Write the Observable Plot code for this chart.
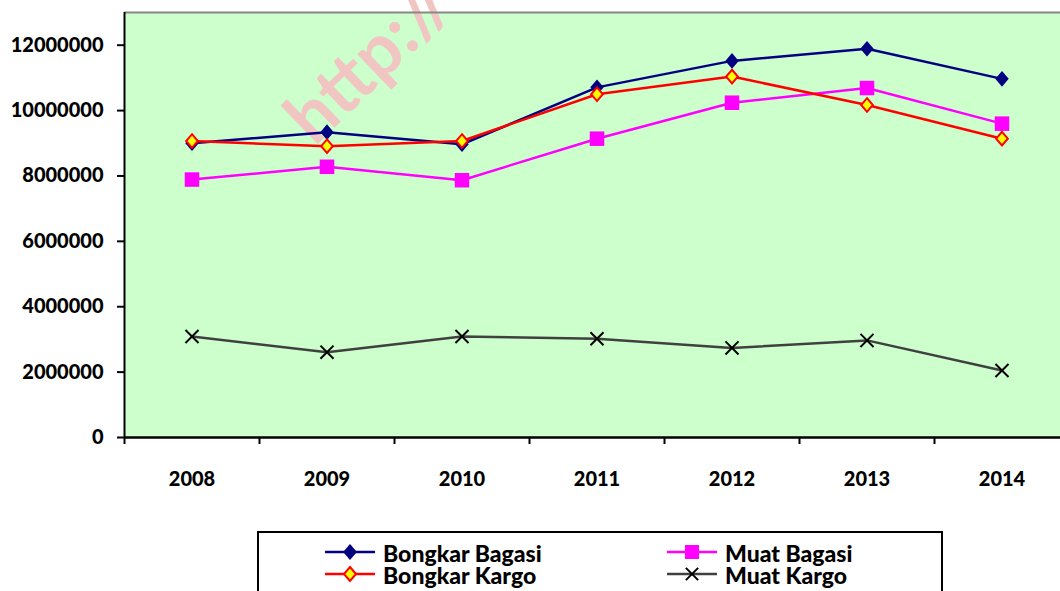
<!DOCTYPE html>
<html>
<head>
<meta charset="utf-8">
<script src="https://cdn.jsdelivr.net/npm/d3@7"></script>
<script src="https://cdn.jsdelivr.net/npm/@observablehq/plot@0.6"></script>
<style>
  html, body { margin: 0; padding: 0; background: white; overflow: hidden; }
  #wrap { position: relative; width: 1060px; height: 591px; }
  #legend { position: absolute; left: 257px; top: 531px; width: 682px; height: 80px;
    border: 2px solid black; font-family: Lato, sans-serif; font-weight: 900; font-size: 23px; }
  .item { position: absolute; display: flex; align-items: center; height: 22px; }
  .item svg { display: block; }
  .item span { display: block; margin-left: 7px; height: 21px; line-height: 22px; overflow: visible; white-space: nowrap; }
</style>
</head>
<body>
<div id="wrap"><div id="chart"></div><div id="legend"></div></div>
<script>
const years = [2008, 2009, 2010, 2011, 2012, 2013, 2014];
const bongkarBagasi = [9000000, 9340000, 8970000, 10710000, 11520000, 11890000, 10970000];
const bongkarKargo = [9070000, 8910000, 9070000, 10500000, 11040000, 10170000, 9140000];
const muatBagasi = [7890000, 8280000, 7870000, 9140000, 10240000, 10690000, 9600000];
const muatKargo = [3090000, 2610000, 3090000, 3020000, 2740000, 2970000, 2050000];
const yTicks = [0, 2000000, 4000000, 6000000, 8000000, 10000000, 12000000];
const seriesNames = ["Bongkar Bagasi", "Muat Bagasi", "Bongkar Kargo", "Muat Kargo"];
const watermark = "http://";

const yearBoundaries = years.map(y => y - 0.5).concat([years[years.length - 1] + 0.5]);
const toRows = vals => years.map((year, i) => ({year, value: vals[i]}));
const bb = toRows(bongkarBagasi), bk = toRows(bongkarKargo), mb = toRows(muatBagasi), mk = toRows(muatKargo);

// Excel-like diamond (slightly taller than wide); half-height equals Plot's r
const excelDiamond = {
  draw(ctx, size) {
    const h = Math.sqrt(size / Math.PI), w = h * 0.86;
    ctx.moveTo(0, -h); ctx.lineTo(w, 0); ctx.lineTo(0, h); ctx.lineTo(-w, 0); ctx.closePath();
  }
};

const chart = Plot.plot({
  width: 1060, height: 510,
  marginLeft: 124, marginRight: 0, marginTop: 12, marginBottom: 73,
  style: {fontFamily: "Lato, sans-serif", fontWeight: 900, fontSize: "20px", color: "black", background: "white"},
  x: {domain: [yearBoundaries[0], yearBoundaries[yearBoundaries.length - 1]], range: [124, 1069]},
  y: {domain: [0, 13000000]},
  marks: [
    Plot.frame({fill: "#CCFFCC", stroke: "none"}),
    Plot.text([watermark], {frameAnchor: "top-left", dx: 174, dy: 118, rotate: -44, textAnchor: "start",
      lineAnchor: "middle", fontSize: 72, fontWeight: "bold", fill: "#F1C6C2"}),
    Plot.ruleY([13000000], {stroke: "#888", strokeWidth: 2}),
    Plot.axisY({ticks: yTicks, tickSize: 7, tickPadding: 14, strokeWidth: 2, tickFormat: d => String(d), label: null, fontSize: 20}),
    Plot.axisX({ticks: yearBoundaries, tickSize: 7, strokeWidth: 2, tickFormat: () => "", label: null}),
    Plot.axisX({ticks: years, tickSize: 0, tickPadding: 34, tickFormat: d => String(d), label: null, fontSize: 20}),
    Plot.lineY(mk, {x: "year", y: "value", stroke: "#404040", strokeWidth: 2.5}),
    Plot.dot(mk, {x: "year", y: "value", symbol: "times", r: 6, stroke: "black", strokeWidth: 2}),
    Plot.lineY(mb, {x: "year", y: "value", stroke: "#FF00FF", strokeWidth: 2.5}),
    Plot.dot(mb, {x: "year", y: "value", symbol: "square", r: 8.2, fill: "#FF00FF", stroke: "none"}),
    Plot.lineY(bb, {x: "year", y: "value", stroke: "#000080", strokeWidth: 2.5}),
    Plot.dot(bb, {x: "year", y: "value", symbol: excelDiamond, r: 7.8, fill: "#000080", stroke: "none"}),
    Plot.lineY(bk, {x: "year", y: "value", stroke: "#FF0000", strokeWidth: 2.5}),
    Plot.dot(bk, {x: "year", y: "value", symbol: excelDiamond, r: 6.8, fill: "#FFFF00", stroke: "#FF0000", strokeWidth: 2}),
    Plot.ruleX([yearBoundaries[0]], {stroke: "black", strokeWidth: 2}),
    Plot.ruleY([0], {stroke: "black", strokeWidth: 2.5})
  ]
});
document.getElementById("chart").appendChild(chart);

// Legend
const styles = {
  "Bongkar Bagasi": {stroke: "#000080", type: excelDiamond, r: 8, fill: "#000080", mstroke: "none", msw: 0},
  "Muat Bagasi": {stroke: "#FF00FF", type: d3.symbolSquare, side: 14, fill: "#FF00FF", mstroke: "none", msw: 0},
  "Bongkar Kargo": {stroke: "#FF0000", type: excelDiamond, r: 7, fill: "#FFFF00", mstroke: "#FF0000", msw: 2},
  "Muat Kargo": {stroke: "#404040", type: d3.symbolTimes, size: 100, fill: "none", mstroke: "black", msw: 2}
};
const pos = {
  "Bongkar Bagasi": [65, 8], "Muat Bagasi": [407, 8],
  "Bongkar Kargo": [65, 30], "Muat Kargo": [407, 30]
};
const legend = d3.select("#legend");
seriesNames.forEach(name => {
  const s = styles[name];
  const size = s.r ? Math.PI * s.r * s.r : s.side ? s.side * s.side : s.size;
  const item = legend.append("div").attr("class", "item")
    .style("left", pos[name][0] + "px").style("top", pos[name][1] + "px");
  const svg = item.append("svg").attr("width", 52).attr("height", 22);
  svg.append("line").attr("x1", 1).attr("x2", 51).attr("y1", 11).attr("y2", 11)
    .attr("stroke", s.stroke).attr("stroke-width", 2.5);
  svg.append("path").attr("transform", "translate(26,11)")
    .attr("d", d3.symbol(s.type, size)())
    .attr("fill", s.fill).attr("stroke", s.mstroke).attr("stroke-width", s.msw);
  item.append("span").text(name);
});
</script>
</body>
</html>
